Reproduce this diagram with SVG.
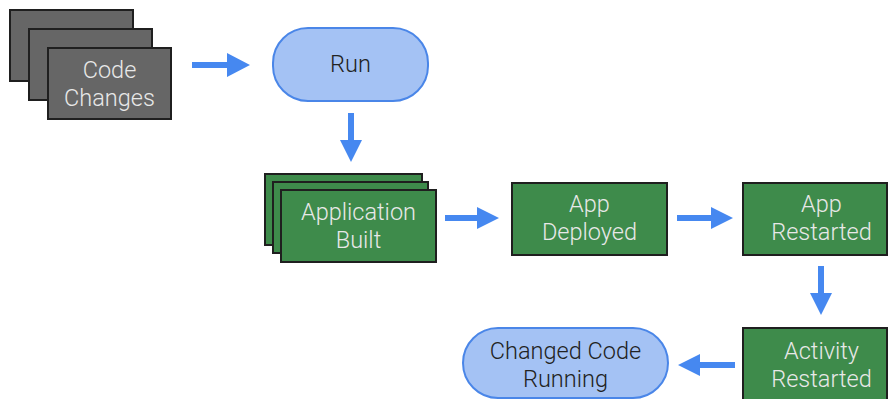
<svg xmlns="http://www.w3.org/2000/svg" width="889" height="399" viewBox="0 0 889 399">
<style>
.gray{fill:#666666;stroke:#1f1f1f;stroke-width:2}
.green{fill:#3e8b4b;stroke:#1f1f1f;stroke-width:2}
.blue{fill:#a4c2f4;stroke:#4a86e8;stroke-width:2}
text{font-family:Roboto,"Liberation Sans",sans-serif;font-weight:300;font-size:23.5px;text-anchor:middle}
.lt{fill:#e8e8e8}
.dk{fill:#222222}
.arr{fill:#4688f0}
</style>
<rect width="889" height="399" fill="#ffffff"/>
<g id="code-changes">
<rect class="gray" x="10" y="10" width="123" height="71"/>
<rect class="gray" x="29" y="29" width="123" height="71"/>
<rect class="gray" x="48" y="48" width="123" height="71"/>
<text class="lt" x="109.5" y="78">Code</text>
<text class="lt" x="109.5" y="106">Changes</text>
</g>
<g id="run">
<rect class="blue" x="273" y="28" width="155" height="73" rx="35"/>
<text class="dk" x="350.5" y="72">Run</text>
</g>
<g id="application-built">
<rect class="green" x="265" y="174" width="157" height="71"/>
<rect class="green" x="273" y="182" width="155" height="71"/>
<rect class="green" x="281" y="190" width="155" height="72"/>
<text class="lt" x="358.5" y="220">Application</text>
<text class="lt" x="358.5" y="248">Built</text>
</g>
<g id="app-deployed">
<rect class="green" x="512" y="183" width="155" height="72"/>
<text class="lt" x="589.5" y="212">App</text>
<text class="lt" x="589.5" y="240">Deployed</text>
</g>
<g id="app-restarted">
<rect class="green" x="743" y="183" width="144" height="72"/>
<text class="lt" x="821.5" y="212">App</text>
<text class="lt" x="821.5" y="240">Restarted</text>
</g>
<g id="activity-restarted">
<rect class="green" x="743" y="328" width="144" height="80"/>
<text class="lt" x="821.5" y="359">Activity</text>
<text class="lt" x="821.5" y="387">Restarted</text>
</g>
<g id="changed-code-running">
<rect class="blue" x="463" y="328" width="205" height="70" rx="35"/>
<text class="dk" x="565.5" y="359">Changed Code</text>
<text class="dk" x="565.5" y="387">Running</text>
</g>
<g id="connectors">
<polygon class="arr" points="192,62 227,62 227,53 250,65 227,77 227,68 192,68"/>
<polygon class="arr" points="348,113 354,113 354,140 362,140 351,162 340,140 348,140"/>
<polygon class="arr" points="445,215 477,215 477,207 499,218 477,229 477,221 445,221"/>
<polygon class="arr" points="677,215 711,215 711,207 733,218 711,229 711,221 677,221"/>
<polygon class="arr" points="818,266 824,266 824,293 832,293 821,315 810,293 818,293"/>
<polygon class="arr" points="735,362 700,362 700,354 678,365 700,376 700,368 735,368"/>
</g>
</svg>
